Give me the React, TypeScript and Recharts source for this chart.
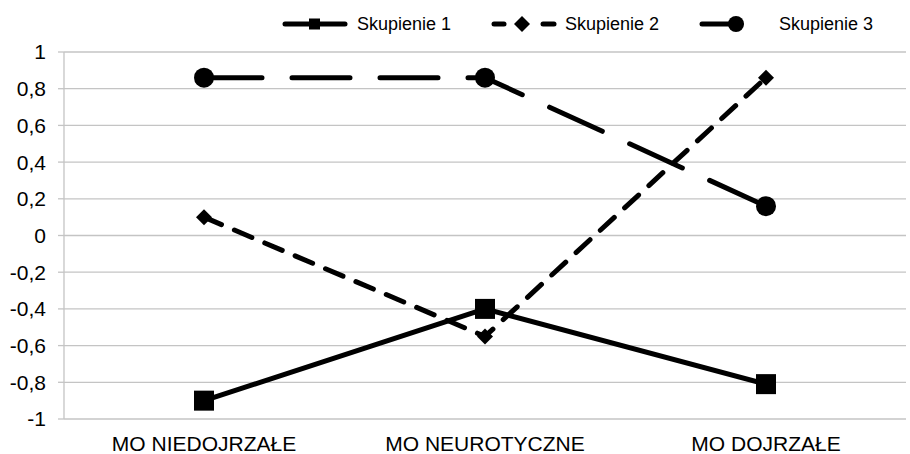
import { LineChart, Line, XAxis, YAxis, CartesianGrid } from 'recharts';

const categories = ['MO NIEDOJRZAŁE', 'MO NEUROTYCZNE', 'MO DOJRZAŁE'];
const skupienie1 = [-0.9, -0.4, -0.81];
const skupienie2 = [0.1, -0.55, 0.86];
const skupienie3 = [0.86, 0.86, 0.16];
const yTicks = [-1, -0.8, -0.6, -0.4, -0.2, 0, 0.2, 0.4, 0.6, 0.8, 1];
const seriesNames = ['Skupienie 1', 'Skupienie 2', 'Skupienie 3'];

const data = categories.map((name, i) => ({
  name,
  s1: skupienie1[i],
  s2: skupienie2[i],
  s3: skupienie3[i],
}));

const FONT = '"Liberation Sans", Arial, sans-serif';
const GRID = '#c4c4c4';

const SquareDot = (props: any) => {
  const { cx, cy } = props;
  if (cx == null || cy == null) return null;
  return <rect x={cx - 10} y={cy - 10} width={20} height={20} fill="#000" />;
};

const DiamondDot = (props: any) => {
  const { cx, cy } = props;
  if (cx == null || cy == null) return null;
  const r = 8;
  return <path d={`M${cx},${cy - r}L${cx + r},${cy}L${cx},${cy + r}L${cx - r},${cy}Z`} fill="#000" />;
};

const CircleDot = (props: any) => {
  const { cx, cy } = props;
  if (cx == null || cy == null) return null;
  return <circle cx={cx} cy={cy} r={10} fill="#000" />;
};

// legend drawn by hand over the chart, Excel style
const ChartLegend = () => (
  <svg
    width={910}
    height={45}
    style={{ position: 'absolute', left: 0, top: 0, pointerEvents: 'none' }}
  >
    <g stroke="#000" strokeWidth={5} strokeLinecap="round">
      <line x1={285} y1={24} x2={345} y2={24} />
      <line x1={494} y1={24} x2={504} y2={24} />
      <line x1={543} y1={24} x2={554} y2={24} />
      <line x1={702} y1={24} x2={741} y2={24} />
    </g>
    <rect x={309} y={18.5} width={11} height={11} fill="#000" />
    <path d="M522,16L530,24L522,32L514,24Z" fill="#000" />
    <circle cx={736} cy={24} r={8} fill="#000" />
    <g fontFamily={FONT} fontSize={18} fill="#000">
      <text x={357} y={30}>{seriesNames[0]}</text>
      <text x={565} y={30}>{seriesNames[1]}</text>
      <text x={779} y={30}>{seriesNames[2]}</text>
    </g>
  </svg>
);

export default function App() {
  return (
    <div style={{ position: 'absolute', left: 0, top: 0, width: 910, height: 454, background: '#fff' }}>
      <LineChart
        width={910}
        height={454}
        data={data}
        margin={{ top: 52, right: 4, bottom: 0, left: 0 }}
        style={{ fontFamily: FONT }}
      >
        <CartesianGrid vertical={false} stroke={GRID} strokeWidth={1.3} />
        <XAxis
          dataKey="name"
          height={35}
          padding={{ left: 140, right: 140 }}
          axisLine={false}
          tickLine={false}
          tickSize={0}
          tickMargin={17}
          tick={{ fill: '#000', fontSize: 21 }}
          interval={0}
        />
        <YAxis
          width={64}
          domain={[-1, 1]}
          ticks={yTicks}
          interval={0}
          axisLine={{ stroke: GRID, strokeWidth: 1.3 }}
          tickLine={{ stroke: GRID, strokeWidth: 1.3 }}
          tickSize={6}
          tickMargin={12}
          tick={{ fill: '#000', fontSize: 21 }}
          tickFormatter={(v: number) => String(v).replace('.', ',')}
        />
        <Line
          dataKey="s1"
          name={seriesNames[0]}
          stroke="#000"
          strokeWidth={5}
          dot={<SquareDot />}
          isAnimationActive={false}
        />
        <Line
          dataKey="s2"
          name={seriesNames[1]}
          stroke="#000"
          strokeWidth={5}
          strokeDasharray="19 14"
          strokeLinecap="round"
          dot={<DiamondDot />}
          isAnimationActive={false}
        />
        <Line
          dataKey="s3"
          name={seriesNames[2]}
          stroke="#000"
          strokeWidth={5}
          strokeDasharray="58 30"
          strokeLinecap="round"
          dot={<CircleDot />}
          isAnimationActive={false}
        />
      </LineChart>
      <ChartLegend />
    </div>
  );
}
